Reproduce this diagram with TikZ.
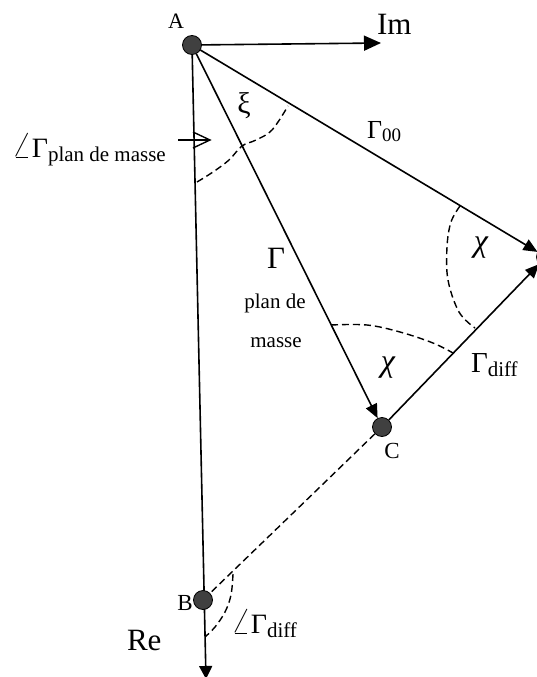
\RequirePackage{fix-cm}
\documentclass[tikz,border=0pt]{standalone}
\usepackage{fontspec}
\setmainfont{Liberation Serif}
\usetikzlibrary{arrows.meta}
\pgfdeclarelayer{bg}
\pgfsetlayers{bg,main}
\newcommand\fsz[1]{\fontsize{#1}{#1}\selectfont}
\newcommand\angsym{\scalebox{1.3}{$\angle$}}
\begin{document}
\begin{tikzpicture}[x=1pt,y=-1pt,
  pt/.style={circle,draw=black,fill=black!75,minimum size=19pt,inner sep=0pt,line width=0.8pt},
  vec/.style={line width=1.6pt},
  dsh/.style={line width=1.4pt,dash pattern=on 7pt off 4pt},
  lbl/.style={inner sep=0pt,outer sep=0pt},
  bigtip/.style={-{Triangle[length=17pt,width=15pt]}},
  midtip/.style={-{Triangle[length=14pt,width=12pt]}},
]
\useasboundingbox (0,0) rectangle (537,677);
\clip (0,0) rectangle (537,677);

% points
\node[pt] (A) at (192,45) {};
\node[pt] (B) at (203,600) {};
\node[pt] (C) at (382,427) {};
\node[pt] (D) at (546,257) {};
\coordinate (ImEnd) at (381,43);
\coordinate (ReEnd) at (206,679);
\coordinate (mk1) at (178,140);
\coordinate (mk2) at (210,140);
\coordinate (mkA) at (193,132);
\coordinate (mkB) at (193,148);

\begin{pgfonlayer}{bg}
% axes
\draw[vec,bigtip] (A) -- (ImEnd);
\draw[vec,-{Triangle[length=13pt,width=13pt]}] (A.center) -- (ReEnd);
% vectors
\draw[vec,midtip] (A) -- (C);
\draw[vec,midtip] (A) -- (D);
\draw[vec,midtip] (C) -- (D);
% dashed link
\draw[dsh] (C) -- (B.center);
% angle marker
\draw[line width=1.4pt] (mk1) -- (mk2);
\draw[line width=1.4pt,line join=miter] (mkA) -- (mk2) -- (mkB);
% dashed arcs
\draw[dsh] plot[smooth,tension=0.6] coordinates {(197,182) (213,172) (229,160) (242,146) (256,140) (272,130) (288,106)};
\draw[dsh] plot[smooth,tension=0.6] coordinates {(460,206) (451,222) (447,247) (448,280) (459,312) (475,328)};
\draw[dsh] plot[smooth,tension=0.6] coordinates {(331,325) (367,325) (400,332) (433,343) (453,353)};
\draw[dsh] plot[smooth,tension=0.6] coordinates {(233,574) (231,595) (225,612) (215,627) (205,637)};
\end{pgfonlayer}

% labels
\node[lbl] (lA) at (176,21) {\fsz{22}A};
\node[lbl,anchor=base west] (lIm) at (377,35) {\fsz{31}Im};
\node[lbl] (lxi) at (244,106) {\fsz{30}ξ};
\node[lbl,anchor=base west] (lG00) at (367,138) {\fsz{26}Γ\raisebox{-3pt}{\fsz{19}00}};
\node[lbl,anchor=base west] (lGpm) at (12,157) {\fsz{28}\angsym Γ\raisebox{-4pt}{\fsz{21}plan de masse}};
\node[lbl] (lG) at (276,258) {\fsz{31}Γ};
\node[lbl,anchor=base] (lpd) at (275,308) {\fsz{21}plan de};
\node[lbl,anchor=base] (lms) at (276,347) {\fsz{21}masse};
\node[lbl] (lchiC) at (388,368) {\fsz{32}\itshape χ};
\node[lbl] (lchiD) at (481,248) {\fsz{32}\itshape χ};
\node[lbl,anchor=base west] (lGd) at (471,372) {\fsz{29}Γ\raisebox{-4pt}{\fsz{21}diff}};
\node[lbl] (lC) at (392,451) {\fsz{23}C};
\node[lbl] (lB) at (185,603) {\fsz{23}B};
\node[lbl,anchor=base west] (lRe) at (127,650) {\fsz{31}Re};
\node[lbl,anchor=base west] (lGdf) at (231,633) {\fsz{28}\angsym Γ\raisebox{-4pt}{\fsz{21}diff}};
\end{tikzpicture}
\end{document}
